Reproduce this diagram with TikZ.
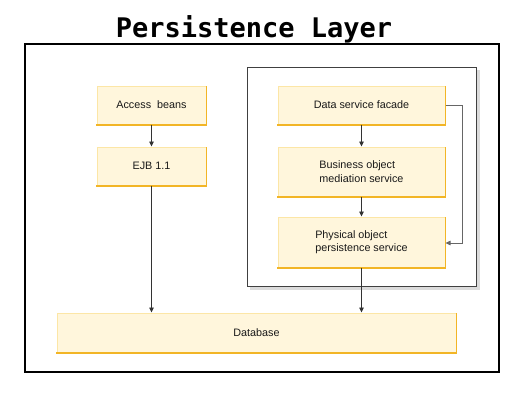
\documentclass[tikz,border=0pt]{standalone}
\usepackage{fontspec}
\setmainfont{Liberation Sans}
\newfontfamily\titlefont{DejaVu Sans Mono}
\usetikzlibrary{arrows.meta}
\definecolor{boxfill}{HTML}{FFF6DC}
\definecolor{boxlight}{HTML}{FCE6A6}
\definecolor{boxdark}{HTML}{F2B526}
\definecolor{linec}{HTML}{333333}
\tikzset{
  ybox/.style={fill=boxfill, draw=boxlight, line width=1pt, minimum width=#1, inner sep=0pt, font=\fontsize{10.8}{13.5}\selectfont, text=black!90, align=left},
  ybox/.default=109pt,
  conn/.style={draw=linec, line width=0.8pt, -{Triangle[length=5pt,width=4.5pt]}},
  bottomedge/.style={draw=boxdark, line width=2pt},
  rightedge/.style={draw=boxdark, line width=1pt},
}
\newcommand{\shadeedges}[1]{%
  \draw[rightedge] ([yshift=-0.5pt]#1.north east) -- ([yshift=0.5pt]#1.south east);
  \draw[bottomedge] ([xshift=-0.5pt]#1.south west) -- ([xshift=0.5pt]#1.south east);
}
\begin{document}
\begin{tikzpicture}[x=1pt,y=-1pt]
\useasboundingbox (0,0) rectangle (527,400);
% title
\node[font=\titlefont\bfseries\fontsize{27}{30}\selectfont, anchor=base] (title) at (254,37) {Persistence Layer};
% outer frame
\draw[line width=2pt] (25,44) rectangle (499,372);
% inner frame with shadow
\fill[gray!28] (250,70) rectangle (480,290);
\draw[fill=white, draw=black!75, line width=0.8pt] (247,67) rectangle (476,286);
% boxes
\node[ybox=109pt, minimum height=38pt] (acc) at (151.5,105) {Access\ \ beans};
\node[ybox=109pt, minimum height=38pt] (ejb) at (151.5,166) {EJB 1.1};
\node[ybox=167pt, minimum height=38pt] (fac) at (361.5,105) {Data service facade};
\node[ybox=167pt, minimum height=49pt] (bus) at (361.5,171.5) {Business object\\mediation service};
\node[ybox=167pt, minimum height=50pt] (phy) at (361.5,242) {Physical object\\persistence service};
\node[ybox=399pt, minimum height=39pt] (db) at (256.5,332.5) {Database};
\shadeedges{acc}
\shadeedges{ejb}
\shadeedges{fac}
\shadeedges{bus}
\shadeedges{phy}
\shadeedges{db}
% connectors
\draw[conn] (acc.south) -- (ejb.north);
\draw[conn] (ejb.south) -- (ejb.south |- db.north);
\draw[conn] (fac.south) -- (bus.north);
\draw[conn] (bus.south) -- (phy.north);
\draw[conn] (phy.south) -- (phy.south |- db.north);
\draw[conn, draw=black!60] (fac.east) -- ([xshift=17pt]fac.east) |- ([yshift=-1pt]phy.east);
\end{tikzpicture}
\end{document}
